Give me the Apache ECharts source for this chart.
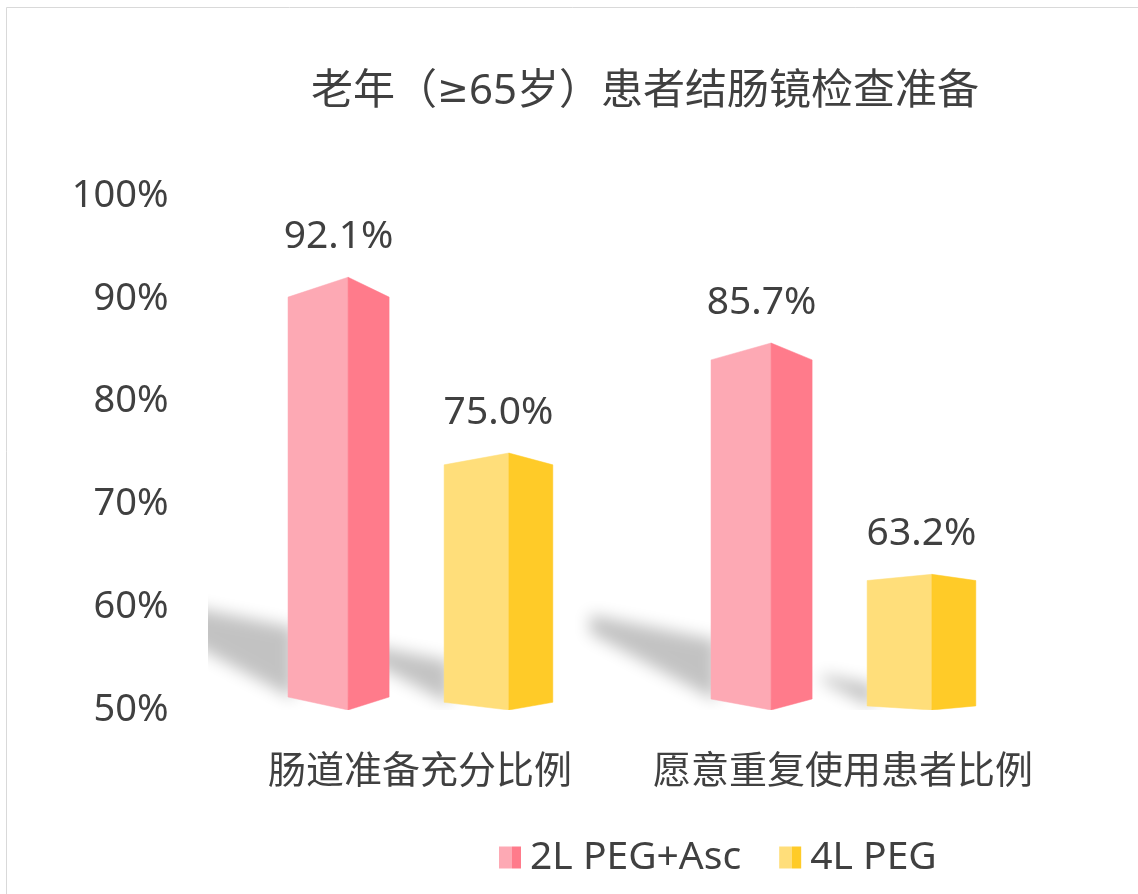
<!DOCTYPE html>
<html>
<head>
<meta charset="utf-8">
<script src="https://cdn.jsdelivr.net/npm/echarts@6/dist/echarts.min.js"></script>
<style>
html,body{margin:0;padding:0;background:#fff;}
#main{width:1138px;height:894px;}
</style>
</head>
<body>
<div id="main"></div>
<script>
// ---- data ----
const titleParts = ['老年（', '≥', '65岁）患者结肠镜检查准备'];
const categories = ['肠道准备充分比例', '愿意重复使用患者比例'];
const seriesNames = ['2L PEG+Asc', '4L PEG'];
const valuesPegAsc = [92.1, 85.7];
const values4LPeg = [75.0, 63.2];
const yMin = 50, yMax = 100, yStep = 10;

// ---- styling ----
const FONT = "'Noto Sans', 'Noto Sans CJK SC', sans-serif";
const TEXT = '#404040';
const pinkLight = '#FDA9B4', pinkDark = '#FF7B8B';
const yellowLight = '#FFDE7A', yellowDark = '#FFCB28';

function split(light, dark) {
  return new echarts.graphic.LinearGradient(0, 0, 1, 0, [
    {offset: 0, color: light}, {offset: 0.6, color: light},
    {offset: 0.6, color: dark}, {offset: 1, color: dark}
  ]);
}

function makeRender(cfg) {
  return function (params, api) {
    const ci = api.value(0);
    const v = api.value(1);
    const top = api.coord([ci, v]);
    const base = api.coord([ci, yMin]);
    const bw = api.size([1, 0])[0];
    const cx = top[0];
    const xl = cx + cfg.l * bw, xf = cx + cfg.f * bw, xr = cx + cfg.r * bw;
    const yt = top[1], yb = base[1];
    const h = yb - yt;
    const offT = 0.046 * h, offB = 0.03 * h;
    const ybl = yb - offB;
    const L = 0.33 * h;
    const SH = 4000;
    const shadowPts = [
      [xl + 6 - SH, ybl + 2],
      [xl + 6 - SH, ybl - 0.16 * h],
      [xl - L - SH, ybl - 0.23 * h],
      [xl - L - SH, ybl - 0.18 * h]
    ];
    return {
      type: 'group',
      children: [
        {
          type: 'polygon', z2: -10, silent: true,
          shape: {points: shadowPts},
          style: {fill: '#000', shadowColor: 'rgba(0,0,0,0.24)', shadowBlur: 16, shadowOffsetX: SH, shadowOffsetY: 0}
        },
        {
          type: 'polygon', z2: 5,
          shape: {points: [[xl, yt + offT], [xf, yt], [xf, yb], [xl, ybl]]},
          style: {fill: cfg.light, stroke: cfg.light, lineWidth: 0.5}
        },
        {
          type: 'polygon', z2: 5,
          shape: {points: [[xf, yt], [xr, yt + offT], [xr, ybl], [xf, yb]]},
          style: {fill: cfg.dark, stroke: cfg.dark, lineWidth: 0.5}
        },
        {
          type: 'text', z2: 6,
          style: {
            x: (xl + xr) / 2, y: yt - 40,
            text: v.toFixed(1) + '%',
            align: 'center', verticalAlign: 'middle',
            fill: TEXT, font: '39px ' + FONT
          }
        }
      ]
    };
  };
}

const chart = echarts.init(document.getElementById('main'), null, {renderer: 'canvas'});
chart.setOption({
  backgroundColor: '#fff',
  animation: false,
  title: {
    text: titleParts[0] + '{g|' + titleParts[1] + '}' + titleParts[2],
    left: 640, top: 66, textAlign: 'center',
    textStyle: {
      fontFamily: FONT, fontSize: 42, fontWeight: 'normal', color: TEXT,
      rich: {g: {fontFamily: "'DejaVu Sans', sans-serif", fontSize: 38, color: TEXT}}
    }
  },
  graphic: [{
    type: 'rect', silent: true, z: -1,
    shape: {x: 6.5, y: 7.5, width: 1200, height: 1000},
    style: {fill: 'none', stroke: '#d9d9d9', lineWidth: 1}
  }],
  legend: {
    left: 494, top: 833,
    icon: 'rect', itemWidth: 22, itemHeight: 22, itemGap: 38,
    textStyle: {fontFamily: FONT, fontSize: 39, color: TEXT, padding: [0, 0, 0, 4]},
    data: [
      {name: seriesNames[0], itemStyle: {color: split(pinkLight, pinkDark)}},
      {name: seriesNames[1], itemStyle: {color: split(yellowLight, yellowDark)}}
    ]
  },
  grid: {left: 208.5, right: 83.5, top: 196, bottom: 184, containLabel: false},
  xAxis: {
    type: 'category', data: categories,
    axisLine: {show: false}, axisTick: {show: false}, splitLine: {show: false},
    axisLabel: {fontFamily: FONT, fontSize: 38, color: TEXT, margin: 43, interval: 0}
  },
  yAxis: {
    type: 'value', min: yMin, max: yMax, interval: yStep,
    axisLine: {show: false}, axisTick: {show: false}, splitLine: {show: false},
    axisLabel: {fontFamily: FONT, fontSize: 38, color: TEXT, margin: 40, formatter: '{value}%'}
  },
  series: [
    {
      type: 'custom', name: seriesNames[0], clip: true,
      itemStyle: {color: split(pinkLight, pinkDark)},
      renderItem: makeRender({l: -0.312, f: -0.170, r: -0.073, light: pinkLight, dark: pinkDark}),
      encode: {x: 0, y: 1},
      data: valuesPegAsc.map((v, i) => [i, v])
    },
    {
      type: 'custom', name: seriesNames[1], clip: true,
      itemStyle: {color: split(yellowLight, yellowDark)},
      renderItem: makeRender({l: 0.057, f: 0.210, r: 0.314, light: yellowLight, dark: yellowDark}),
      encode: {x: 0, y: 1},
      data: values4LPeg.map((v, i) => [i, v])
    }
  ]
});
</script>
</body>
</html>
